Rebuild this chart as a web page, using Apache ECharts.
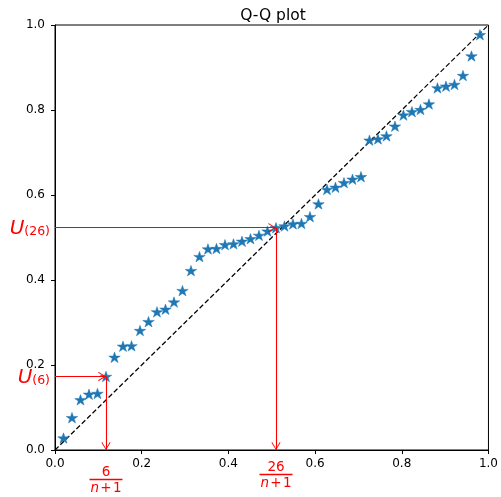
<!DOCTYPE html>
<html>
<head>
<meta charset="utf-8">
<script src="https://cdn.jsdelivr.net/npm/echarts@6/dist/echarts.min.js"></script>
<style>html,body{margin:0;padding:0;background:#fff}#c{width:501px;height:497px}</style>
</head>
<body>
<div id="c"></div>
<script>
// theoretical quantiles i/(n+1), n = 50
const quantiles = [0.0196,0.0392,0.0588,0.0784,0.0980,0.1176,0.1373,0.1569,0.1765,0.1961,
  0.2157,0.2353,0.2549,0.2745,0.2941,0.3137,0.3333,0.3529,0.3725,0.3922,
  0.4118,0.4314,0.4510,0.4706,0.4902,0.5098,0.5294,0.5490,0.5686,0.5882,
  0.6078,0.6275,0.6471,0.6667,0.6863,0.7059,0.7255,0.7451,0.7647,0.7843,
  0.8039,0.8235,0.8431,0.8627,0.8824,0.9020,0.9216,0.9412,0.9608,0.9804];
// sorted sample values U(i)
const orderStats = [0.028,0.076,0.118,0.131,0.133,0.173,0.218,0.244,0.245,0.281,
  0.302,0.325,0.331,0.348,0.375,0.422,0.455,0.473,0.474,0.483,
  0.485,0.491,0.497,0.505,0.515,0.523,0.527,0.532,0.533,0.549,
  0.579,0.613,0.618,0.629,0.637,0.643,0.729,0.732,0.739,0.762,
  0.788,0.796,0.801,0.814,0.852,0.856,0.860,0.881,0.927,0.977];
const diagonal = [[0,0],[1,1]];
const highlighted = [6, 26];   // ranks annotated
const axisTicks = [0, 0.2, 0.4, 0.6, 0.8, 1.0];
const title = 'Q-Q plot';

const FONT = 'DejaVu Sans';
const chevron = 'path://M50 0 L100 90 L93 100 L50 20 L7 100 L0 90 Z';

const points = quantiles.map((q, i) => [q, orderStats[i]]);

function uLabel(k) {
  return '{u|U}{s|(' + k + ')}';
}
function fracLabel(k) {
  return '{num|' + k + '}\n{bar| }\n{den|n}{den2|\u200a+\u200a1}';
}
const richU = {
  u: {fontSize: 20, fontStyle: 'italic', color: 'red', fontFamily: FONT, lineHeight: 22, verticalAlign: 'bottom'},
  s: {fontSize: 12.5, color: 'red', fontFamily: FONT, lineHeight: 14, verticalAlign: 'bottom'}
};
const richFrac = {
  num: {fontSize: 13.5, color: 'red', fontFamily: FONT, lineHeight: 12, align: 'center'},
  bar: {width: 33, height: 1.6, lineHeight: 3, backgroundColor: 'red', fontSize: 1},
  den: {fontSize: 13.5, color: 'red', fontFamily: FONT, fontStyle: 'italic', lineHeight: 15},
  den2: {fontSize: 13.5, color: 'red', fontFamily: FONT, lineHeight: 15}
};

const markData = [];
highlighted.forEach((k, j) => {
  const x = quantiles[k - 1], y = orderStats[k - 1];
  markData.push([
    {coord: [0, y], label: {show: true, position: 'start', distance: 5, formatter: uLabel(k), rich: richU}},
    {coord: [x, y]}
  ]);
  markData.push([
    {coord: [x, y], label: {show: true, position: 'end', distance: j === 0 ? 16 : 11, formatter: fracLabel(k), rich: richFrac}},
    {coord: [x, 0]}
  ]);
});

const chart = echarts.init(document.getElementById('c'), null, {renderer: 'canvas'});
chart.setOption({
  animation: false,
  backgroundColor: '#fff',
  title: {
    text: title, left: 268, textAlign: 'center', top: 3,
    textStyle: {fontFamily: FONT, fontSize: 15.5, fontWeight: 'normal', color: '#000'}
  },
  grid: {left: 55, top: 25, right: 9, bottom: 47, show: true, borderColor: '#000', borderWidth: 1, backgroundColor: 'transparent'},
  xAxis: {
    type: 'value', min: 0, max: 1, interval: 0.2,
    axisLine: {show: true, onZero: false, lineStyle: {color: '#000', width: 1}},
    axisTick: {show: true, length: 4, lineStyle: {color: '#000'}},
    splitLine: {show: false},
    axisLabel: {margin: 8, color: '#000', fontFamily: FONT, fontSize: 12,
      customValues: axisTicks, formatter: v => v.toFixed(1)}
  },
  yAxis: {
    type: 'value', min: 0, max: 1, interval: 0.2,
    axisLine: {show: true, onZero: false, lineStyle: {color: '#000', width: 1}},
    axisTick: {show: true, length: 4, lineStyle: {color: '#000'}},
    splitLine: {show: false},
    axisLabel: {margin: 10, color: '#000', fontFamily: FONT, fontSize: 12,
      customValues: axisTicks, formatter: v => v.toFixed(1)}
  },
  series: [
    {
      type: 'line', data: diagonal, showSymbol: false, symbol: 'none', silent: true,
      lineStyle: {color: '#000', width: 1.2, type: [5, 2.5]}, z: 1
    },
    {
      type: 'scatter', data: points, silent: true, z: 3,
      symbol: 'path://M100 0 L122.45 69.1 L195.1 69.1 L136.3 111.8 L158.8 180.9 L100 138.2 L41.2 180.9 L63.7 111.8 L4.9 69.1 L77.55 69.1 Z',
      symbolSize: [11.5, 11], symbolKeepAspect: true,
      itemStyle: {color: '#1f77b4', borderColor: '#1f77b4', borderWidth: 0.5, opacity: 1},
      markLine: {
        silent: true, animation: false,
        symbol: ['none', chevron], symbolSize: [9, 8],
        symbolOffset: [[0, 0], [0, 4]],
        lineStyle: {color: 'red', width: 1.1, type: 'solid'},
        label: {show: false},
        emphasis: {disabled: true},
        data: markData
      }
    }
  ]
});
</script>
</body>
</html>
